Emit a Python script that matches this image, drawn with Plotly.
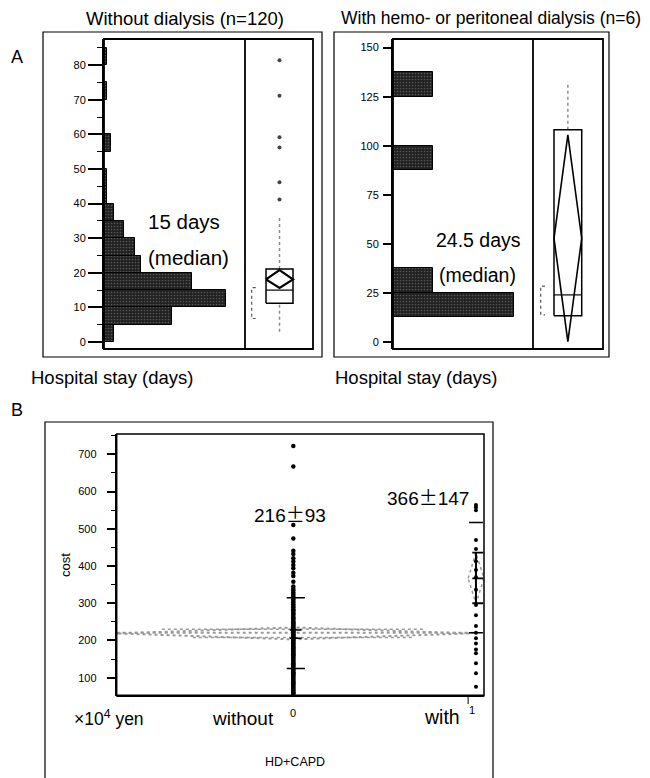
import plotly.graph_objects as go

W, H = 650, 778
OFF = 8  # the page body has an 8px margin; positions below are window pixels
FONT = "Liberation Sans, Arial, Helvetica, sans-serif"

# ---------------- Data ----------------
# Panel A, without dialysis: histogram of hospital stay (days), bin width 5
stay0_bin_start = [0, 5, 10, 15, 20, 25, 30, 35, 40, 45, 55, 70, 80]
stay0_counts = [3, 20, 36, 26, 11, 9, 6, 3, 1, 1, 2, 1, 1]
stay0_bin_width = 5
# box plot summary (days)
stay0_q1, stay0_median, stay0_q3 = 11.2, 15.0, 21.1
stay0_whisker = [3.0, 36.7]
stay0_mean, stay0_ci = 18.1, [15.6, 20.8]
stay0_shortest_half = [6.8, 15.7]
stay0_outliers = [41.2, 46.2, 56.2, 59.2, 71.2, 81.4]

# Panel A, with dialysis: histogram, bin width 12.5
stay1_bin_start = [12.5, 25, 87.5, 125]
stay1_counts = [3, 1, 1, 1]
stay1_bin_width = 12.5
stay1_q1, stay1_median, stay1_q3 = 13.4, 24.0, 108.1
stay1_whisker = [13.4, 132.7]
stay1_mean, stay1_ci = 52.8, [0.2, 105.5]
stay1_shortest_half = [13.8, 28.5]

# Panel B: cost (x10^4 yen) by HD+CAPD group (0 = without, 1 = with)
cost_without = [722, 667, 510, 474, 441, 432, 421, 412, 403, 394, 382, 373, 358,
                345, 339, 334, 329, 325, 320, 316, 311, 306, 302, 297, 293, 289,
                284, 281, 277, 273, 270, 266, 262, 259, 256, 252, 249, 246, 243,
                240, 237, 235, 232, 229, 227, 224, 222, 219, 217, 214, 212, 209,
                207, 204, 202, 199, 197, 194, 192, 189, 186, 184, 181, 179, 176,
                173, 171, 168, 165, 163, 160, 157, 154, 151, 148, 145, 142, 139,
                136, 133, 130, 127, 124, 121, 118, 115, 112, 109, 106, 103, 100,
                97, 94, 91, 88, 85, 82, 79, 76, 73, 70, 67, 64, 61, 58, 55]
cost_with = [564, 558, 550, 470, 446, 413, 389, 370, 336, 295, 268, 239, 221,
             206, 192, 176, 166, 139, 112, 76]
grand_mean = 221
g0_mean, g0_ci, g0_sd, g0_se = 219, [203, 235], [125, 315], [206, 228]
g1_mean, g1_ci, g1_sd = 367, [300, 436], [221, 517]
g0_text = ["216", "93"]
g1_text = ["366", "147"]

# ---------------- helpers ----------------
def px(x):
    return (x - OFF) / W

def py(y):
    return 1 - (y - OFF) / H

fig = go.Figure()

hist_marker = dict(color="#202020", line=dict(color="black", width=1),
                   pattern=dict(shape=".", fgcolor="#8a8a8a", size=3, solidity=0.25))

# A-left histogram
fig.add_trace(go.Bar(orientation="h",
                     y=[s + stay0_bin_width / 2 for s in stay0_bin_start],
                     x=stay0_counts, width=stay0_bin_width,
                     marker=hist_marker, xaxis="x", yaxis="y", showlegend=False))
# A-right histogram
fig.add_trace(go.Bar(orientation="h",
                     y=[s + stay1_bin_width / 2 for s in stay1_bin_start],
                     x=stay1_counts, width=stay1_bin_width,
                     marker=hist_marker, xaxis="x3", yaxis="y3", showlegend=False))


def line(xs, ys, xa, ya, color="black", width=1.5, dash="solid"):
    fig.add_trace(go.Scatter(x=xs, y=ys, mode="lines", xaxis=xa, yaxis=ya,
                             line=dict(color=color, width=width, dash=dash),
                             showlegend=False, hoverinfo="skip"))


def boxplot(xa, ya, bl, br, q1, med, q3, wh, mean, ci, sh, bl_x, br_x, dwidth):
    cx = (bl + br) / 2
    line([cx, cx], [q3, wh[1]], xa, ya, color="#8c8c8c", width=1.5, dash="dot")
    if wh[0] < q1 - 0.5:
        line([cx, cx], [wh[0], q1], xa, ya, color="#8c8c8c", width=1.5, dash="dot")
    line([bl, br, br, bl, bl], [q1, q1, q3, q3, q1], xa, ya, width=1.5)
    line([bl, br], [med, med], xa, ya, width=1.2)
    line([bl, cx, br, cx, bl], [mean, ci[1], mean, ci[0], mean], xa, ya, width=dwidth)
    line([br_x, bl_x, bl_x, br_x], [sh[1], sh[1], sh[0], sh[0]], xa, ya,
         color="#555", width=1.2, dash="dot")


boxplot("x2", "y2", 0.309, 0.706, stay0_q1, stay0_median, stay0_q3, stay0_whisker,
        stay0_mean, stay0_ci, stay0_shortest_half, 0.098, 0.157, 2.2)
fig.add_trace(go.Scatter(x=[0.507] * len(stay0_outliers), y=stay0_outliers, mode="markers",
                         marker=dict(color="#444", size=4), xaxis="x2", yaxis="y2",
                         showlegend=False))
boxplot("x4", "y4", 0.300, 0.696, stay1_q1, stay1_median, stay1_q3, stay1_whisker,
        stay1_mean, stay1_ci, stay1_shortest_half, 0.110, 0.171, 1.6)

# ---------------- Panel B ----------------
gray = "#9a9a9a"
line([-0.967, 1.0], [grand_mean, grand_mean], "x5", "y5", color=gray, width=2, dash="dot")
line([-0.967, 0, 0.967, 0, -0.967], [g0_mean, g0_ci[1], g0_mean, g0_ci[0], g0_mean],
     "x5", "y5", color=gray, width=2, dash="dot")
ov = (g0_ci[1] - g0_ci[0]) / 2 * 0.7071
line([-0.72, 0.72], [g0_mean + ov, g0_mean + ov], "x5", "y5", color=gray, width=1.5, dash="dot")
line([-0.55, 0.65], [g0_mean - ov, g0_mean - ov], "x5", "y5", color=gray, width=1.5, dash="dot")
line([0.957, 1.0, 1.044, 1.0, 0.957], [g1_mean, g1_ci[1], g1_mean, g1_ci[0], g1_mean],
     "x5", "y5", color=gray, width=1.5, dash="dot")

fig.add_trace(go.Scatter(x=[0] * len(cost_without), y=cost_without, mode="markers",
                         marker=dict(color="black", size=4.5), xaxis="x5", yaxis="y5",
                         showlegend=False, cliponaxis=True))
fig.add_trace(go.Scatter(x=[1.0] * len(cost_with), y=cost_with, mode="markers",
                         marker=dict(color="black", size=4), xaxis="x5", yaxis="y5",
                         showlegend=False, cliponaxis=False))

for v in g0_sd:
    line([-0.036, 0.064], [v, v], "x5", "y5", width=1.5)
for v in g0_se:
    line([-0.02, 0.045], [v, v], "x5", "y5", width=1.5)
for v in g1_sd:
    line([0.962, 1.038], [v, v], "x5", "y5", width=1.5)
for v in [g1_ci[0], g1_mean, g1_ci[1]]:
    line([0.98, 1.04], [v, v], "x5", "y5", width=1.8)
line([1.0, 1.0], [g1_ci[0], g1_ci[1]], "x5", "y5", width=2)
fig.add_shape(type="line", xref="x5", yref="paper", x0=0.957, x1=0.957,
              y0=py(697), y1=py(704), line=dict(color="black", width=1))

# ---------------- shapes: frames ----------------
def rect(x0, y0, x1, y1, width=1.5, color="black"):
    fig.add_shape(type="rect", xref="paper", yref="paper", x0=px(x0), x1=px(x1),
                  y0=py(y1), y1=py(y0), line=dict(color=color, width=width))


def vline(x, y0, y1, width=1.5):
    fig.add_shape(type="line", xref="paper", yref="paper", x0=px(x), x1=px(x),
                  y0=py(y0), y1=py(y1), line=dict(color="black", width=width))


rect(43, 32, 322, 357, width=1.2)
rect(104, 39, 313, 349, width=1.8)
vline(245, 39, 349, 1.8)
rect(334, 32, 609, 357, width=1.2)
rect(393, 39, 603, 349, width=1.8)
vline(533, 39, 349, 1.8)
rect(45, 422, 493, 790, width=1.2)
rect(116.7, 434, 484, 695.7, width=1.5)
fig.add_shape(type="line", xref="paper", yref="paper", x0=px(116.7), x1=px(484),
              y0=py(695.7), y1=py(695.7), line=dict(color="black", width=2.5))

# ---------------- annotations ----------------
def text(x, y, s, size, xanchor="center", textangle=0):
    fig.add_annotation(x=px(x), y=py(y), xref="paper", yref="paper", text=s,
                       showarrow=False, xanchor=xanchor, yanchor="middle",
                       font=dict(family=FONT, size=size, color="black"),
                       textangle=textangle)


PM = "<span style='font-family:Noto Sans CJK JP;font-size:19px'>\u00b1</span>"
text(185, 18, "Without dialysis (n=120)", 18.5)
text(491, 18, "With hemo- or peritoneal dialysis (n=6)", 17.5)
text(8.5, 57, "A", 18, xanchor="left")
text(8.5, 410, "B", 18, xanchor="left")
text(29, 378, "Hospital stay (days)", 18.5, xanchor="left")
text(333, 378, "Hospital stay (days)", 18.5, xanchor="left")
text(184, 222, "15 days", 20.5)
text(188, 258, "(median)", 20.5)
text(478, 240, "24.5 days", 19.5)
text(477, 275, "(median)", 19.5)
text(289.5, 513, g0_text[0] + PM + g0_text[1], 19)
text(428, 496, g1_text[0] + PM + g1_text[1], 19)
text(72, 718, "\u00d710<sup>4</sup> yen", 17.5, xanchor="left")
text(243, 718, "without", 19)
text(293.3, 713, "0", 11)
text(442, 717, "with", 19.5)
text(472, 710, "1", 11)
text(295, 762, "HD+CAPD", 12.5)
text(65, 565, "cost", 13, textangle=-90)

# ---------------- axes ----------------
tickfont = dict(family=FONT, size=11, color="black")
ydomA = [py(349), py(39)]
hidden = dict(visible=False, showgrid=False, zeroline=False, fixedrange=True)

fig.update_layout(
    width=W, height=H, margin=dict(l=0, r=0, t=0, b=0),
    paper_bgcolor="white", plot_bgcolor="rgba(0,0,0,0)",
    bargap=0, showlegend=False,
    xaxis=dict(domain=[px(104), px(245)], range=[0, 41.5], anchor="y", **hidden),
    yaxis=dict(domain=ydomA, range=[-2.02, 87.57], anchor="x",
               tickvals=[0, 10, 20, 30, 40, 50, 60, 70, 80], ticks="outside",
               ticklen=14, tickwidth=1.5, tickcolor="black",
               minor=dict(tickvals=[5, 15, 25, 35, 45, 55, 65, 75, 85], ticks="outside",
                          ticklen=5, tickwidth=1.2, tickcolor="black"),
               showline=True, linewidth=2, linecolor="black", showgrid=False,
               zeroline=False, tickfont=tickfont),
    xaxis2=dict(domain=[px(245), px(313)], range=[0, 1], anchor="y2", **hidden),
    yaxis2=dict(domain=ydomA, range=[-2.02, 87.57], anchor="x2", **hidden),
    xaxis3=dict(domain=[px(393), px(533)], range=[0, 3.47], anchor="y3", **hidden),
    yaxis3=dict(domain=ydomA, range=[-3.57, 154.4], anchor="x3",
                tickvals=[0, 25, 50, 75, 100, 125, 150], ticks="outside",
                ticklen=8, tickwidth=1.5, tickcolor="black", ticklabelstandoff=2,
                showline=True, linewidth=2, linecolor="black", showgrid=False,
                zeroline=False, tickfont=tickfont),
    xaxis4=dict(domain=[px(533), px(603)], range=[0, 1], anchor="y4", **hidden),
    yaxis4=dict(domain=ydomA, range=[-3.57, 154.4], anchor="x4", **hidden),
    xaxis5=dict(domain=[px(116.7), px(484)], range=[-0.967, 1.044], anchor="y5", **hidden),
    yaxis5=dict(domain=[py(695.7), py(434)], range=[51.7, 754.5], anchor="x5",
                tickvals=[100, 200, 300, 400, 500, 600, 700], ticks="outside",
                ticklen=8, tickwidth=1.5, tickcolor="black", ticklabelstandoff=8,
                minor=dict(tickvals=[150, 250, 350, 450, 550, 650, 750], ticks="outside",
                           ticklen=4, tickwidth=1.2, tickcolor="black"),
                showline=True, linewidth=2, linecolor="black", showgrid=False,
                zeroline=False, tickfont=tickfont),
)

fig.write_html("out.html")
